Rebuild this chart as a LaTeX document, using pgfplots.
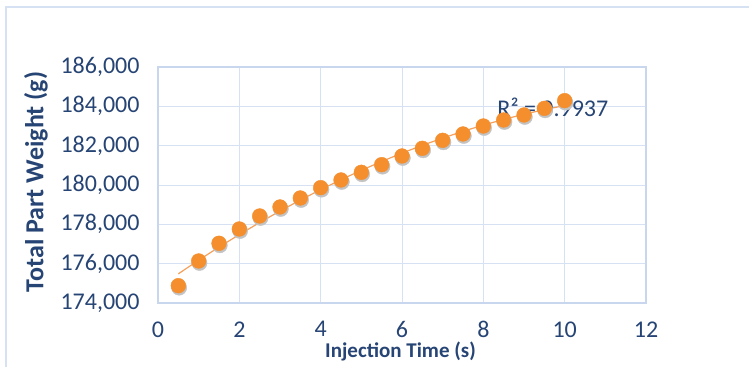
\documentclass[border=0pt]{standalone}
\usepackage{fontspec}
\setmainfont{Carlito}
\usepackage{pgfplots}
\pgfplotsset{compat=1.18}
\definecolor{gridc}{RGB}{214,225,243}
\definecolor{framec}{RGB}{200,215,238}
\definecolor{txtc}{RGB}{38,68,116}
\definecolor{orng}{RGB}{245,142,45}
\definecolor{trendc}{RGB}{246,160,90}
\definecolor{shadc}{RGB}{195,195,195}
\begin{document}
\begin{tikzpicture}[x=1bp,y=1bp]
\useasboundingbox (0,0) rectangle (749,366);
\draw[gridc, line width=2bp] (6,-20) -- (6,358.5) -- (780,358.5);
\begin{axis}[
  at={(158bp,63bp)}, anchor=south west,
  scale only axis, width=488bp, height=236bp,
  xmin=0, xmax=12, ymin=174000, ymax=186000,
  xtick={0,2,...,12}, ytick={174000,176000,...,186000},
  grid=major, grid style={gridc, line width=1bp},
  axis line style={framec, line width=1.2bp},
  tick style={draw=none},
  scaled ticks=false,
  /pgf/number format/.cd, fixed, 1000 sep={,}, assume math mode=true, /pgfplots/.cd,
  ticklabel style={text=txtc, font=\fontsize{24bp}{27bp}\selectfont},
  yticklabel shift=15bp, xticklabel shift=15bp,
  xlabel={\textbf{Injection Time (s)}},
  ylabel={\textbf{Total Part Weight (g)}},
  xlabel style={at={(axis description cs:0.497,-0.205)}, anchor=center, text=txtc, font=\fontsize{21bp}{24bp}\selectfont},
  ylabel style={at={(axis description cs:-0.25,0.513)}, anchor=center, rotate=0, text=txtc, font=\fontsize{26bp}{29bp}\selectfont},
  clip=false,
]
% trendline (quadratic fit)
\addplot[trendc, line width=1.2bp, smooth] coordinates {
(0.5,175483) (1,176175) (1.5,176840) (2,177478) (2.5,178090) (3,178674)
(3.5,179232) (4,179763) (4.5,180267) (5,180744) (5.5,181194) (6,181618)
(6.5,182014) (7,182384) (7.5,182727) (8,183043) (8.5,183332) (9,183595)
(9.5,183830) (10,184039)};
% shadow
\addplot[shadc, only marks, mark=*, mark size=7.6bp, mark options={fill=shadc, draw=shadc, xshift=0.8bp, yshift=-2bp}] coordinates {
(0.5,174881) (1,176137) (1.5,177036) (2,177764) (2.5,178425) (3,178883)
(3.5,179340) (4,179865) (4.5,180255) (5,180645) (5.5,181034) (6,181475)
(6.5,181865) (7,182272) (7.5,182594) (8,183000) (8.5,183305) (9,183560)
(9.5,183898) (10,184289)};
\addplot[orng, only marks, mark=*, mark size=7.4bp, mark options={fill=orng, draw=orng, line width=0.4bp}] coordinates {
(0.5,174881) (1,176137) (1.5,177036) (2,177764) (2.5,178425) (3,178883)
(3.5,179340) (4,179865) (4.5,180255) (5,180645) (5.5,181034) (6,181475)
(6.5,181865) (7,182272) (7.5,182594) (8,183000) (8.5,183305) (9,183560)
(9.5,183898) (10,184289)};
\node[text=txtc, font=\fontsize{24bp}{27bp}\selectfont, inner sep=0pt] at (axis cs:9.71,183966) {R² = 0.9937};
\end{axis}
\end{tikzpicture}
\end{document}
